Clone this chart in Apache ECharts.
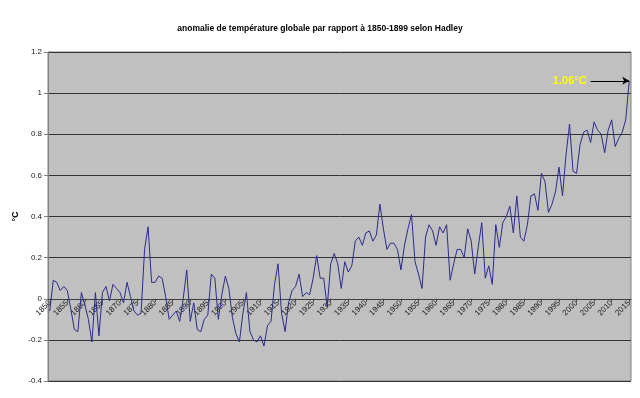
<!DOCTYPE html>
<html><head><meta charset="utf-8">
<script src="https://cdn.jsdelivr.net/npm/echarts@6/dist/echarts.min.js"></script>
<style>html,body{margin:0;padding:0;background:#fff}#c{width:640px;height:398px}</style>
</head><body><div id="c"></div>
<script>
var years = [];
for (var y = 1850; y <= 2015; y++) years.push(String(y));
var anomaly = [
-0.06,0.09,0.08,0.04,0.06,0.04,-0.05,-0.15,-0.16,0.03,
-0.03,-0.10,-0.21,0.03,-0.18,0.03,0.06,-0.01,0.07,0.05,
0.03,-0.02,0.08,0.01,-0.06,-0.08,-0.07,0.24,0.35,0.08,
0.08,0.11,0.10,0.01,-0.10,-0.08,-0.06,-0.11,0.00,0.14,
-0.11,-0.02,-0.15,-0.16,-0.10,-0.08,0.12,0.10,-0.10,0.02,
0.11,0.05,-0.09,-0.17,-0.21,-0.07,0.03,-0.16,-0.20,-0.21,
-0.18,-0.23,-0.13,-0.11,0.07,0.17,-0.07,-0.16,-0.02,0.04,
0.06,0.12,0.01,0.03,0.02,0.10,0.21,0.10,0.10,-0.04,
0.17,0.22,0.17,0.05,0.18,0.13,0.16,0.28,0.30,0.26,
0.32,0.33,0.28,0.31,0.46,0.34,0.24,0.27,0.27,0.24,
0.14,0.26,0.34,0.41,0.18,0.12,0.05,0.30,0.36,0.33,
0.26,0.35,0.32,0.36,0.09,0.17,0.24,0.24,0.20,0.34,
0.28,0.12,0.25,0.37,0.10,0.16,0.07,0.36,0.25,0.37,
0.40,0.45,0.32,0.50,0.30,0.28,0.36,0.50,0.51,0.43,
0.61,0.57,0.42,0.46,0.52,0.64,0.50,0.70,0.85,0.62,
0.61,0.75,0.81,0.82,0.76,0.86,0.82,0.80,0.71,0.82,
0.87,0.74,0.78,0.81,0.87,1.06
];
var yTicks = [-0.4,-0.2,0,0.2,0.4,0.6,0.8,1,1.2];
var annotation = {text:'1.06°C', from:'2004', to:'2015', value:1.06};

var gridTop = 52, gridBottom = 17, H = 398;
var yMin = yTicks[0], yMax = yTicks[yTicks.length-1];
var gridH = H - gridTop - gridBottom;
var zeroOffset = -gridH * (0 - yMin) / (yMax - yMin);

var chart = echarts.init(document.getElementById('c'));
chart.setOption({
  animation:false,
  backgroundColor:'#ffffff',
  title:{text:'anomalie de température globale par rapport à 1850-1899 selon Hadley',
    left:'center', top:19,
    textStyle:{fontFamily:'Liberation Sans', fontSize:8.5, fontWeight:'bold', color:'#000'}},
  grid:{left:48,right:9,top:gridTop,bottom:gridBottom,show:true,backgroundColor:'#c0c0c0',borderColor:'#808080',borderWidth:1},
  xAxis:{type:'category', data:years, boundaryGap:true, offset:zeroOffset,
    axisLine:{onZero:false, lineStyle:{color:'#404040',width:1}},
    axisTick:{show:true, interval:4, alignWithLabel:true, length:3, lineStyle:{color:'#404040'}},
    axisLabel:{interval:4, rotate:45, fontSize:8, fontFamily:'Liberation Sans', color:'#222', margin:3},
    splitLine:{show:false}},
  yAxis:{type:'value', min:yMin, max:yMax, interval:0.2,
    name:'°C', nameLocation:'middle', nameGap:28, nameRotate:90, nameMoveOverlap:false,
    nameTextStyle:{fontFamily:'Liberation Sans', fontSize:9, fontWeight:'bold', color:'#000'},
    axisLine:{show:true, lineStyle:{color:'#808080'}},
    axisTick:{show:true, length:4, lineStyle:{color:'#808080'}},
    axisLabel:{fontSize:8, fontFamily:'Liberation Sans', color:'#222', margin:6,
      formatter:function(v){return String(Math.round(v*10)/10);}},
    splitLine:{show:true, lineStyle:{color:'#333',width:1}}},
  series:[{type:'line', data:anomaly, symbol:'none', smooth:false,
    lineStyle:{color:'#2b2b8c', width:1},
    markLine:{silent:true, symbol:['none','arrow'], symbolSize:[6,7],
      lineStyle:{color:'#000', width:1, type:'solid'},
      label:{show:true, position:'start', formatter:annotation.text, color:'#ffff00',
        fontFamily:'Liberation Sans', fontSize:11, fontWeight:'bold', distance:4},
      data:[[{coord:[annotation.from, annotation.value]},{coord:[annotation.to, annotation.value]}]]}
  }]
});
</script></body></html>
